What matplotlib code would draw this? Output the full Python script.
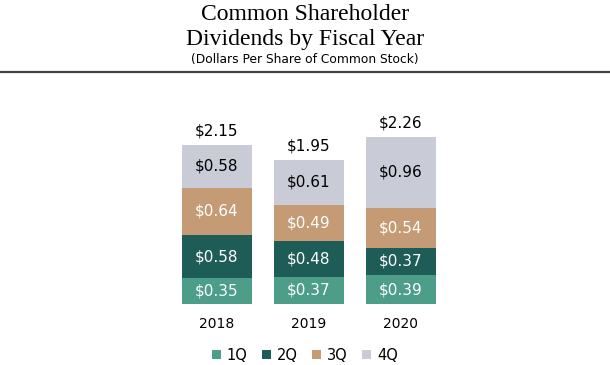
import matplotlib
matplotlib.use("Agg")
import matplotlib.pyplot as plt
from matplotlib.lines import Line2D
from matplotlib.patches import Patch

years = ["2018", "2019", "2020"]
quarters = ["1Q", "2Q", "3Q", "4Q"]
q1 = [0.35, 0.37, 0.39]
q2 = [0.58, 0.48, 0.37]
q3 = [0.64, 0.49, 0.54]
q4 = [0.58, 0.61, 0.96]
totals = [2.15, 1.95, 2.26]

colors = ["#4c9e88", "#1d5c57", "#c49b74", "#c9cbd6"]
text_colors = ["white", "white", "white", "black"]

W, H = 610, 365
fig = plt.figure(figsize=(W / 100, H / 100), dpi=100)

# axes placed in pixel coordinates: bars centred at 217/309/401 px, baseline at 304 px
ax = fig.add_axes([125 / W, (H - 304) / H, 368 / W, 74 * 2.5 / H])
ax.set_xlim(-1, 3)
ax.set_ylim(0, 2.5)
ax.axis("off")

x = range(len(years))
bottom = [0.0] * len(years)
for vals, c, tc in zip([q1, q2, q3, q4], colors, text_colors):
    ax.bar(x, vals, width=0.76, bottom=bottom, color=c, linewidth=0)
    for i, v in enumerate(vals):
        ax.text(i, bottom[i] + v / 2, f"${v:.2f}", ha="center", va="center",
                color=tc, fontsize=11, family="DejaVu Sans")
    bottom = [b + v for b, v in zip(bottom, vals)]

for i, t in enumerate(totals):
    ax.text(i, bottom[i] + 0.09, f"${t:.2f}", ha="center", va="bottom",
            color="black", fontsize=11, family="DejaVu Sans")
    ax.text(i, -0.27, years[i], ha="center", va="center",
            color="black", fontsize=10, family="DejaVu Sans")

# title block
fig.text(0.5, 1 - 15 / H, "Common Shareholder", ha="center", va="center",
         fontsize=17, family="Liberation Serif")
fig.text(0.5, 1 - 40 / H, "Dividends by Fiscal Year", ha="center", va="center",
         fontsize=17, family="Liberation Serif")
fig.text(0.5, 1 - 60 / H, "(Dollars Per Share of Common Stock)", ha="center",
         va="center", fontsize=8.8, family="DejaVu Sans")
fig.add_artist(Line2D([0, 1], [1 - 72 / H, 1 - 72 / H], color="#404040",
                      linewidth=1.6, transform=fig.transFigure))

handles = [Patch(facecolor=c, edgecolor="none") for c in colors]
fig.legend(handles, quarters, loc="center", bbox_to_anchor=(305 / W, 1 - 355 / H),
           ncol=4, frameon=False, fontsize=10.5, handlelength=0.6, handleheight=0.6,
           handletextpad=0.4, columnspacing=1.0)

fig.savefig("out.png", dpi=100)
